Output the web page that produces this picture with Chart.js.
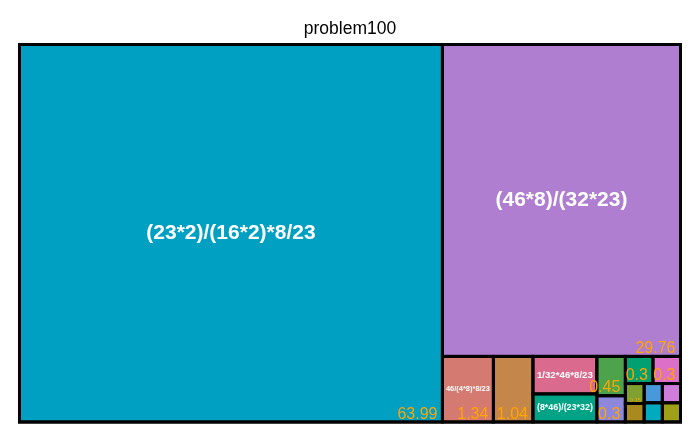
<!DOCTYPE html>
<html><head><meta charset="utf-8">
<script src="https://cdn.jsdelivr.net/npm/chart.js@4/dist/chart.umd.min.js"></script>
<style>html,body{margin:0;padding:0;background:#fff}</style>
</head><body>
<canvas id="c" width="700" height="433"></canvas>
<script>
const titleText = 'problem100';
const names = ['(23*2)/(16*2)*8/23', '(46*8)/(32*23)', '46/(4*8)*8/23', '', '1/32*46*8/23', '(8*46)/(23*32)', '', '', '', '', '', '', '', '', '', ''];
const values = [63.99, 29.76, 1.34, 1.04, 0.96, 0.72, 0.45, 0.3, 0.3, 0.3, 0.15, 0.14, 0.14, 0.14, 0.14, 0.14];
const valueLabels = ['63.99', '29.76', '1.34', '1.04', '', '', '0.45', '0.3', '0.3', '0.3', '0.15', '', '', '', '', ''];
const colors = ['#00A0C2', '#B07ED0', '#D47A70', '#C4864A', '#DA6A8E', '#00A385', '#4CA34C', '#8E88DC',
                '#00A070', '#DC70C8', '#80A030', '#AA8A1E', '#4898DC', '#D07CDA', '#00AABF', '#A0A018'];
const RATIO = 1.16;
const FONT = "'Liberation Sans', Arial, sans-serif";

function squarify(vals, x0, y0, x1, y1, ratio) {
  const rects = new Array(vals.length);
  let value = vals.reduce((a, b) => a + b, 0);
  let i0 = 0, i1 = 0;
  const n = vals.length;
  while (i0 < n) {
    const dx = x1 - x0, dy = y1 - y0;
    let sum = vals[i1++];
    let minV = sum, maxV = sum;
    const alpha = Math.max(dy / dx, dx / dy) / (value * ratio);
    let beta = sum * sum * alpha;
    let minRatio = Math.max(maxV / beta, beta / minV);
    for (; i1 < n; ++i1) {
      const v = vals[i1];
      sum += v;
      if (v < minV) minV = v;
      if (v > maxV) maxV = v;
      beta = sum * sum * alpha;
      const nr = Math.max(maxV / beta, beta / minV);
      if (nr > minRatio) { sum -= v; break; }
      minRatio = nr;
    }
    if (dx < dy) {
      const ny = value ? y0 + dy * sum / value : y1;
      let cx = x0;
      for (let i = i0; i < i1; i++) { const w = dx * vals[i] / sum; rects[i] = {x0: cx, y0: y0, x1: cx + w, y1: ny}; cx += w; }
      y0 = ny;
    } else {
      const nx = value ? x0 + dx * sum / value : x1;
      let cy = y0;
      for (let i = i0; i < i1; i++) { const h = dy * vals[i] / sum; rects[i] = {x0: x0, y0: cy, x1: nx, y1: cy + h}; cy += h; }
      x0 = nx;
    }
    value -= sum; i0 = i1;
  }
  return rects;
}

const treemapPlugin = {
  id: 'treemap',
  afterDatasetsDraw(chart) {
    const ctx = chart.ctx;
    const xs = chart.scales.x, ys = chart.scales.y;
    const W = chart.chartArea.right - chart.chartArea.left;
    const H = chart.chartArea.bottom - chart.chartArea.top;
    const rects = squarify(values, 0, 0, W, H, RATIO).map(r => ({
      x0: xs.getPixelForValue(r.x0 / W), x1: xs.getPixelForValue(r.x1 / W),
      y0: ys.getPixelForValue(r.y0 / H), y1: ys.getPixelForValue(r.y1 / H)
    }));
    ctx.save();
    rects.forEach((r, i) => {
      ctx.fillStyle = colors[i];
      ctx.fillRect(r.x0, r.y0, r.x1 - r.x0, r.y1 - r.y0);
    });
    ctx.strokeStyle = '#000';
    ctx.lineWidth = 3;
    rects.forEach(r => ctx.strokeRect(r.x0, r.y0, r.x1 - r.x0, r.y1 - r.y0));
    const a = chart.chartArea;
    ctx.strokeRect(a.left, a.top, a.right - a.left, a.bottom - a.top);
    // names
    rects.forEach((r, i) => {
      const t = names[i];
      if (!t) return;
      const innerW = r.x1 - r.x0 - 3;
      ctx.font = 'bold 21px ' + FONT;
      const w21 = ctx.measureText(t).width;
      const size = Math.min(21, 21 * innerW * 0.92 / w21);
      ctx.font = 'bold ' + size + 'px ' + FONT;
      ctx.fillStyle = '#fff';
      ctx.textAlign = 'center';
      ctx.textBaseline = 'middle';
      ctx.fillText(t, (r.x0 + r.x1) / 2, (r.y0 + r.y1) / 2);
    });
    // values
    rects.forEach((r, i) => {
      const t = valueLabels[i];
      if (!t) return;
      const innerH = r.y1 - r.y0 - 3;
      const size = innerH >= 20 ? 16 : 6;
      const pad = innerH >= 20 ? 5 : 3;
      ctx.font = size + 'px ' + FONT;
      ctx.fillStyle = '#FFA500';
      ctx.textAlign = 'right';
      ctx.textBaseline = 'alphabetic';
      ctx.fillText(t, r.x1 - pad, r.y1 - (pad - 1.5));
    });
    ctx.restore();
  }
};

new Chart(document.getElementById('c'), {
  type: 'scatter',
  data: { datasets: [{ data: [] }] },
  options: {
    responsive: false, animation: false, devicePixelRatio: 1,
    layout: { padding: { left: 19.5, right: 19.5, top: 0, bottom: 11 } },
    plugins: {
      legend: { display: false }, tooltip: { enabled: false },
      title: { display: true, text: titleText, color: '#000',
        font: { family: FONT, size: 17.5, weight: 'normal' }, padding: { top: 18.4, bottom: 5.1 } }
    },
    scales: {
      x: { type: 'linear', min: 0, max: 1, display: false },
      y: { type: 'linear', min: 0, max: 1, reverse: true, display: false }
    }
  },
  plugins: [treemapPlugin]
});
</script>
</body></html>
